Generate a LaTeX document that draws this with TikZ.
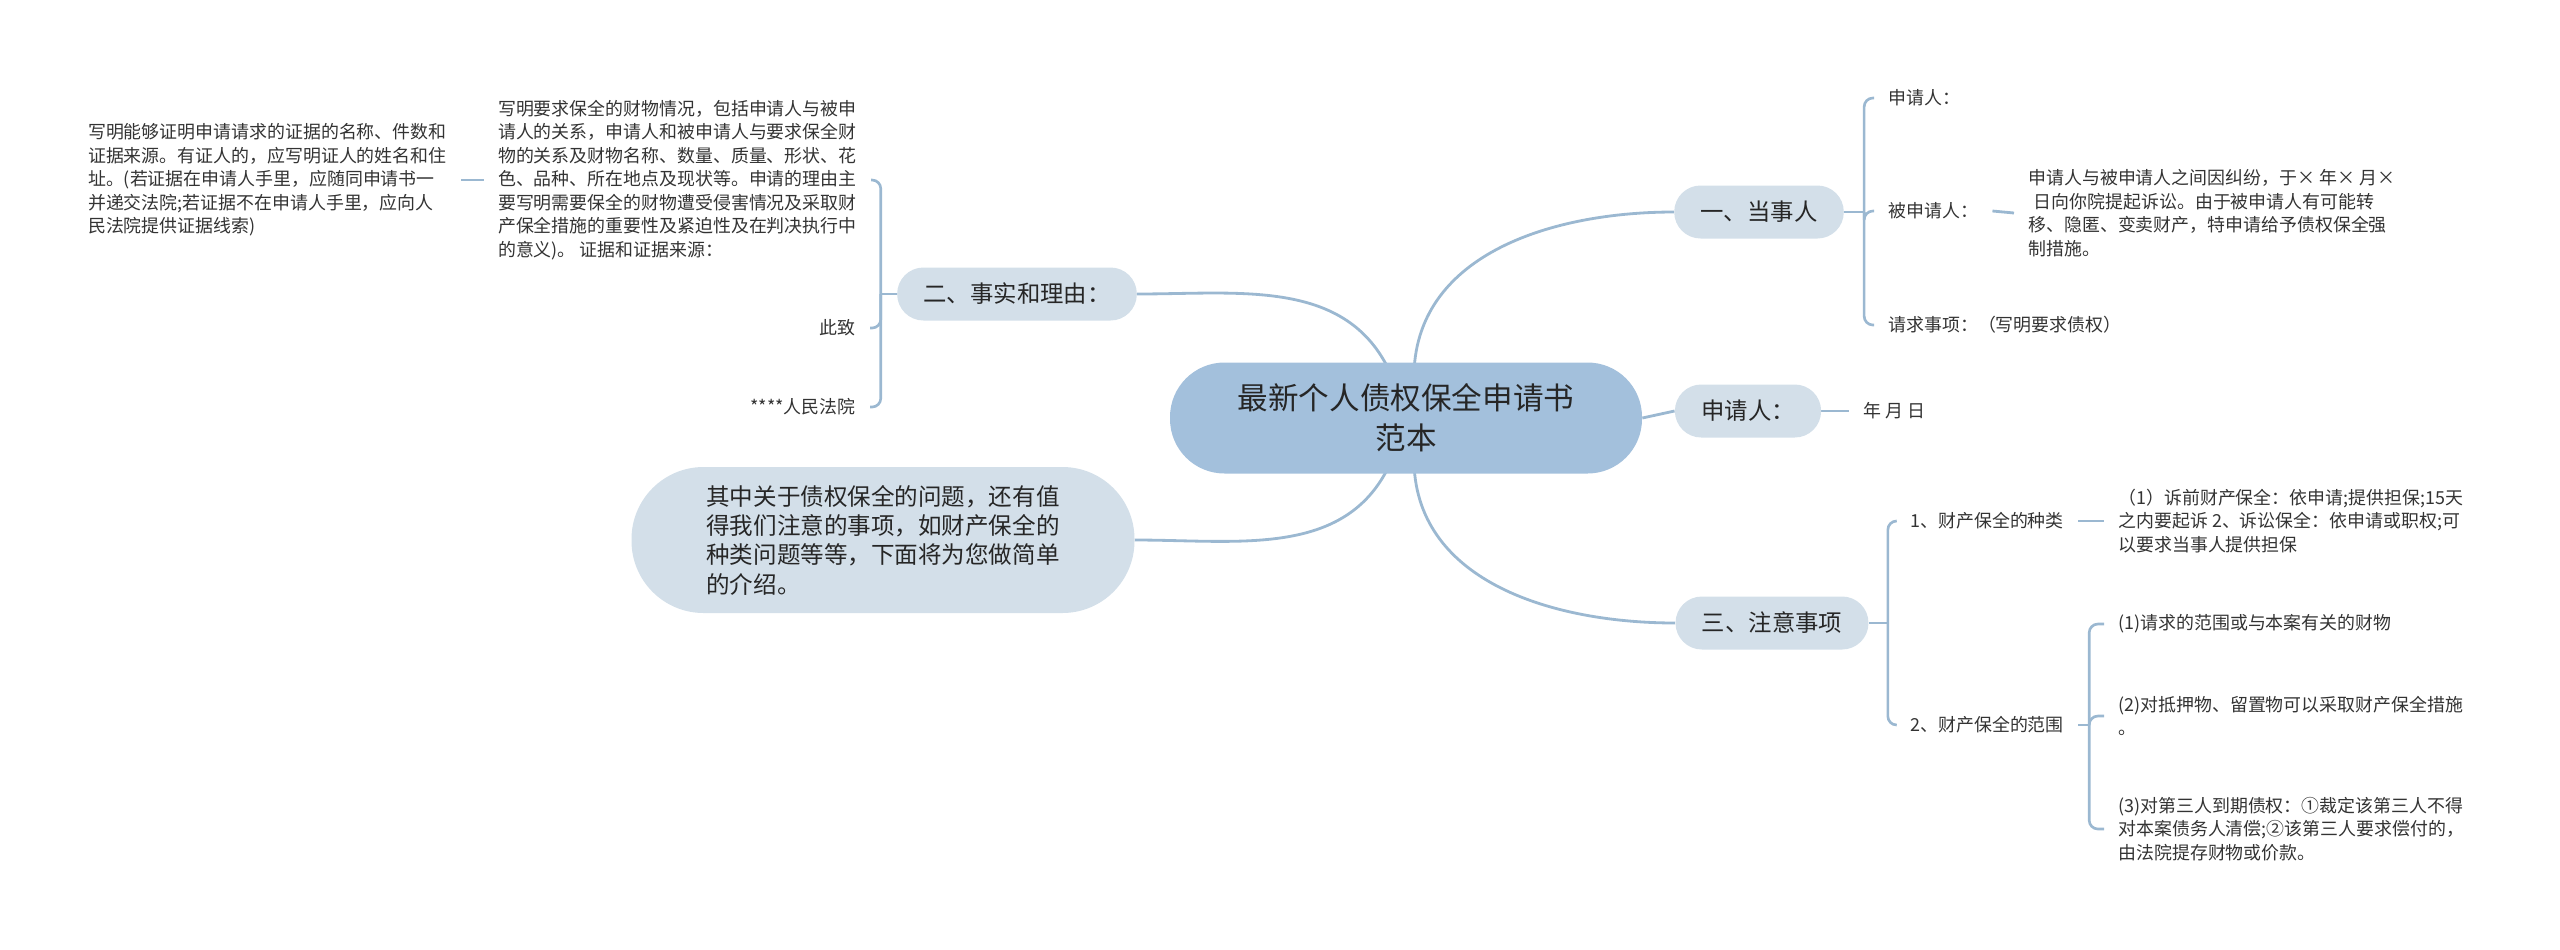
\documentclass[tikz,border=0pt]{standalone}
\usepackage{fontspec}
\newfontfamily\cjk{Noto Sans CJK SC}
\usetikzlibrary{calc,backgrounds}
\definecolor{rootblue}{HTML}{A3C0DC}
\definecolor{topicblue}{HTML}{D3DFE9}
\definecolor{linkblue}{HTML}{9BB8D1}
\definecolor{textdark}{HTML}{262626}
\definecolor{textgray}{HTML}{333333}

\begin{document}
\begin{tikzpicture}[x=0.2mm, y=0.2mm,
    link/.style={draw=linkblue, line width=1.6pt},
    bracket/.style={draw=linkblue, line width=1.5pt, rounded corners=5pt},
    rootnode/.style={fill=rootblue, rounded corners=31pt, minimum width=94.4mm, minimum height=22.2mm, align=center, text=textdark, font=\cjk\fontsize{17.4}{22.8}\selectfont},
    topic/.style={fill=topicblue, rounded corners=15pt, minimum height=10.6mm, inner xsep=15pt, text=textdark, font=\cjk\fontsize{13.3}{16}\selectfont},
    leaf/.style={inner xsep=8pt, inner ysep=2pt, align=left, text=textgray, font=\cjk\fontsize{10.2}{13.4}\selectfont}]
    \useasboundingbox (0,0) rectangle (2560,-949);

    % centre and main topics
    \node[rootnode] (root) at (1406,-418) {最新个人债权保全申请书\\范本};
    \node[topic] (one) at (1759,-212) {一、当事人};
    \node[topic] (app) at (1748,-411) {申请人：};
    \node[topic] (three) at (1772,-623) {三、注意事项};
    \node[topic] (two) at (1017,-294) {二、事实和理由：};
    \node[topic, rounded corners=41pt, minimum width=100.6mm, minimum height=29.2mm, align=left,
          font=\cjk\fontsize{13.4}{16.7}\selectfont] (intro) at (883,-540)
        {其中关于债权保全的问题，还有值\\得我们注意的事项，如财产保全的\\种类问题等等，下面将为您做简单\\的介绍。};

    % right side
    \node[leaf, anchor=west] (a1) at (1874,-98) {申请人：};
    \node[leaf, anchor=west] (a2) at (1874,-211) {被申请人：};
    \node[leaf, anchor=west] (a3) at (1874,-325) {请求事项：（写明要求债权）};
    \node[leaf, anchor=west] (a2d) at (2014,-213)
        {申请人与被申请人之间因纠纷，于× 年× 月×\\\hspace{0.3em}日向你院提起诉讼。由于被申请人有可能转\\移、隐匿、变卖财产，特申请给予债权保全强\\制措施。};
    \node[leaf, anchor=west] (date) at (1849,-411) {年 月 日};
    \node[leaf, anchor=west] (n1) at (1896,-521) {1、财产保全的种类};
    \node[leaf, anchor=west] (n1d) at (2104,-521)
        {（1）诉前财产保全：依申请;提供担保;15天\\之内要起诉 2、诉讼保全：依申请或职权;可\\以要求当事人提供担保};
    \node[leaf, anchor=west] (n2) at (1896,-725) {2、财产保全的范围};
    \node[leaf, anchor=west] (r1) at (2104,-624) {(1)请求的范围或与本案有关的财物};
    \node[leaf, anchor=west] (r2) at (2104,-716) {(2)对抵押物、留置物可以采取财产保全措施\\。};
    \node[leaf, anchor=west] (r3) at (2104,-829)
        {(3)对第三人到期债权：①裁定该第三人不得\\对本案债务人清偿;②该第三人要求偿付的，\\由法院提存财物或价款。};

    % left side
    \node[leaf, anchor=east] (f1) at (871,-180)
        {写明要求保全的财物情况，包括申请人与被申\\请人的关系，申请人和被申请人与要求保全财\\物的关系及财物名称、数量、质量、形状、花\\色、品种、所在地点及现状等。申请的理由主\\要写明需要保全的财物遭受侵害情况及采取财\\产保全措施的重要性及紧迫性及在判决执行中\\的意义)。 证据和证据来源：};
    \node[leaf, anchor=east] (f0) at (461,-180)
        {写明能够证明申请请求的证据的名称、件数和\\证据来源。有证人的，应写明证人的姓名和住\\址。(若证据在申请人手里，应随同申请书一\\并递交法院;若证据不在申请人手里，应向人\\民法院提供证据线索)};
    \node[leaf, anchor=east] (zhi) at (870,-328) {此致};
    \node[leaf, anchor=east] (court) at (870,-407) {****人民法院};

    \coordinate (onetrunk) at ($(one.east)+(20,0)$);
    \coordinate (twotrunk) at ($(two.west)+(-16,0)$);
    \coordinate (threetrunk) at ($(three.east)+(19,0)$);
    \coordinate (ntwotrunk) at ($(n2.east)+(11,0)$);

    \begin{scope}[on background layer]
    \draw[link] ($(root.north)+(8,-10)$) to[out=88,in=180] (one.west);
    \draw[link] ($(root.south)+(8,10)$) to[out=-88,in=180] (three.west);
    \draw[link] ($(root.north)+(-16,-10)$) to[out=115,in=0] (two.east);
    \draw[link] ($(root.south)+(-16,10)$) to[out=-115,in=0] (intro.east);
    \draw[link] (root.east) -- (app.west);
    \draw[link] (app.east) -- (date.west);
    \draw[link] (a2.east) -- (a2d.west);
    \draw[link] (n1.east) -- (n1d.west);
    \draw[link] (f0.east) -- (f1.west);
    \draw[link] (one.east) -- (onetrunk);
    \draw[link] (two.west) -- (twotrunk);
    \draw[link] (three.east) -- (threetrunk);
    \draw[link] (n2.east) -- (ntwotrunk);
    \foreach \c in {a1,a2,a3} {
        \draw[bracket] (onetrunk) |- (\c.west);
    }
    \foreach \c in {f1,zhi,court} {
        \draw[bracket] (twotrunk) |- (\c.east);
    }
    \foreach \c in {n1,n2} {
        \draw[bracket] (threetrunk) |- (\c.west);
    }
    \foreach \c in {r1,r2,r3} {
        \draw[bracket] (ntwotrunk) |- (\c.west);
    }
    \end{scope}
\end{tikzpicture}
\end{document}
